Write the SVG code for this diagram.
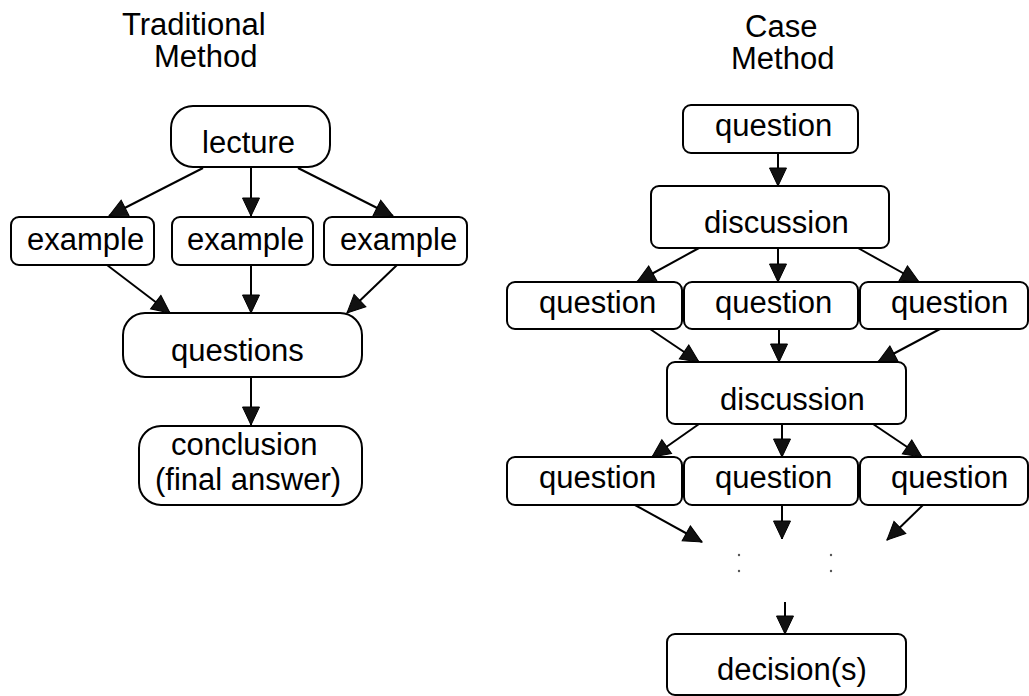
<svg xmlns="http://www.w3.org/2000/svg" width="1029" height="696" viewBox="0 0 1029 696">
<style>
.box{fill:#fff;stroke:#000;stroke-width:2}
.t{font-family:"Liberation Sans",Arial,sans-serif;font-size:31px;fill:#000}
.c{fill:none;stroke:#000;stroke-width:2;marker-end:url(#ah)}
.dot{fill:#555}
</style>
<defs>
<marker id="ah" markerUnits="userSpaceOnUse" markerWidth="20" markerHeight="20" viewBox="0 0 20 20" refX="19" refY="10" orient="auto">
<path d="M1,1.5 L19,10 L1,18.5 Z" fill="#111" stroke="#000" stroke-width="1"/>
</marker>
</defs>
<rect width="1029" height="696" fill="#fff"/>
<g id="titles">
<text class="t" x="122" y="35">Traditional</text>
<text class="t" x="154" y="67">Method</text>
<text class="t" x="745" y="37">Case</text>
<text class="t" x="731" y="69">Method</text>
</g>
<g id="connectors">
<path class="c" d="M203,168 L109,216"/>
<path class="c" d="M251,167 L251,216"/>
<path class="c" d="M298,168 L393,216"/>
<path class="c" d="M107,265 L170,313"/>
<path class="c" d="M251,265 L251,313"/>
<path class="c" d="M397,265 L347,313"/>
<path class="c" d="M251,377 L251,425"/>
<path class="c" d="M778,153 L778,186"/>
<path class="c" d="M699,248 L637,282"/>
<path class="c" d="M778,248 L778,282"/>
<path class="c" d="M858,248 L919,282"/>
<path class="c" d="M650,329 L699,362"/>
<path class="c" d="M779,329 L779,362"/>
<path class="c" d="M940,329 L878,362"/>
<path class="c" d="M699,424 L652,457"/>
<path class="c" d="M782,424 L782,457"/>
<path class="c" d="M873,424 L922,457"/>
<path class="c" d="M635,505 L702,542"/>
<path class="c" d="M782,505 L782,539"/>
<path class="c" d="M923,505 L887,540"/>
<path class="c" d="M785,602 L785,634"/>
</g>
<g id="dots">
<circle class="dot" cx="739" cy="555" r="1.2"/>
<circle class="dot" cx="739" cy="571" r="1.2"/>
<circle class="dot" cx="831" cy="555" r="1.2"/>
<circle class="dot" cx="831" cy="571" r="1.2"/>
</g>
<g id="lecture"><rect class="box" x="171" y="106" width="159" height="61" rx="22"/><text class="t" x="202" y="153">lecture</text></g>
<g id="example1"><rect class="box" x="11" y="217" width="143" height="48" rx="8"/><text class="t" x="27" y="250">example</text></g>
<g id="example2"><rect class="box" x="172" y="217" width="141" height="48" rx="8"/><text class="t" x="187" y="250">example</text></g>
<g id="example3"><rect class="box" x="324" y="217" width="143" height="48" rx="8"/><text class="t" x="340" y="250">example</text></g>
<g id="questions"><rect class="box" x="123" y="313" width="239" height="64" rx="22"/><text class="t" x="171" y="361">questions</text></g>
<g id="conclusion"><rect class="box" x="139" y="426" width="223" height="79" rx="22"/><text class="t" x="171" y="455">conclusion</text><text class="t" x="155" y="490">(final answer)</text></g>
<g id="q0"><rect class="box" x="683" y="105" width="175" height="48" rx="8"/><text class="t" x="715" y="136">question</text></g>
<g id="disc1"><rect class="box" x="651" y="186" width="238" height="62" rx="8"/><text class="t" x="704" y="233">discussion</text></g>
<g id="q1a"><rect class="box" x="507" y="282" width="175" height="47" rx="8"/><text class="t" x="539" y="313">question</text></g>
<g id="q1b"><rect class="box" x="684" y="282" width="174" height="47" rx="8"/><text class="t" x="715" y="313">question</text></g>
<g id="q1c"><rect class="box" x="860" y="282" width="168" height="47" rx="8"/><text class="t" x="891" y="313">question</text></g>
<g id="disc2"><rect class="box" x="667" y="362" width="239" height="62" rx="8"/><text class="t" x="720" y="410">discussion</text></g>
<g id="q2a"><rect class="box" x="507" y="457" width="175" height="48" rx="8"/><text class="t" x="539" y="488">question</text></g>
<g id="q2b"><rect class="box" x="684" y="457" width="174" height="48" rx="8"/><text class="t" x="715" y="488">question</text></g>
<g id="q2c"><rect class="box" x="860" y="457" width="168" height="48" rx="8"/><text class="t" x="891" y="488">question</text></g>
<g id="decision"><rect class="box" x="667" y="634" width="239" height="61" rx="8"/><text class="t" x="717" y="680">decision(s)</text></g>
</svg>
